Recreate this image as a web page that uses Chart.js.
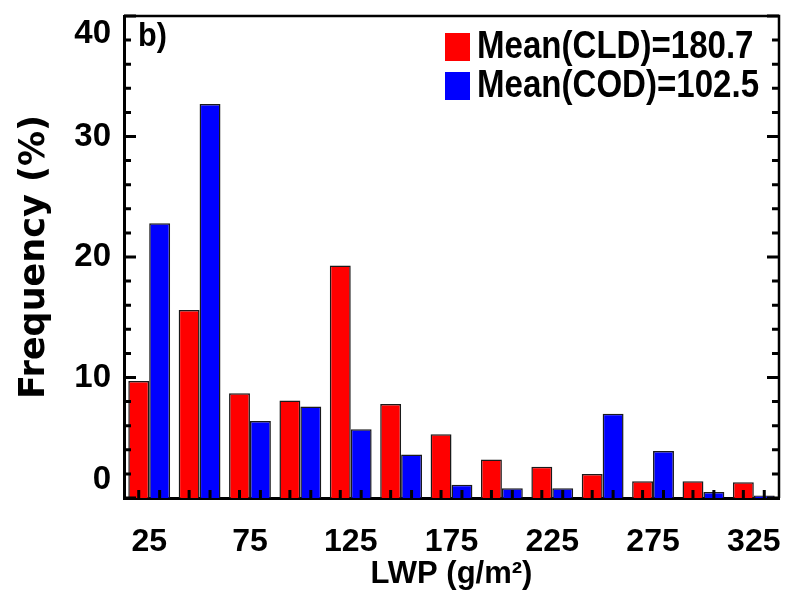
<!DOCTYPE html>
<html lang="en">
<head>
<meta charset="UTF-8">
<title>LWP frequency</title>
<style>
  html, body { margin: 0; padding: 0; background: #fff; }
</style>
</head>
<body>
<canvas id="chart" width="802" height="605"></canvas>

<script src="https://cdn.jsdelivr.net/npm/chart.js@4.4.0/dist/chart.umd.min.js"></script>
<script>
// bin centres of LWP (g/m2), 25 g/m2 wide
const lwpBins = ['25', '50', '75', '100', '125', '150', '175', '200', '225', '250', '275', '300', '325'];
// frequency (%) per bin
const cldFreq = [9.7, 15.6, 8.7, 8.1, 19.3, 7.8, 5.3, 3.2, 2.6, 2.0, 1.4, 1.4, 1.3];
const codFreq = [22.8, 32.7, 6.4, 7.6, 5.7, 3.6, 1.1, 0.8, 0.8, 7.0, 3.9, 0.5, 0.2];
const seriesNames = ['Mean(CLD)=180.7', 'Mean(COD)=102.5'];
const yMin = 0, yMax = 40, yMajorStep = 10, yMinorStep = 2;
const panelLabel = 'b)';

const FONT = '"Liberation Sans", Arial, Helvetica, sans-serif';

// frame on top/right plus inward tick marks
const framePlugin = {
    id: 'frame',
    afterDatasetsDraw(chart) {
        const { ctx, chartArea: a, scales: { y } } = chart;
        ctx.save();
        ctx.strokeStyle = '#000';
        ctx.lineWidth = 2.5;
        ctx.beginPath();
        ctx.moveTo(a.left, a.top);
        ctx.lineTo(a.right, a.top);
        ctx.lineTo(a.right, a.bottom);
        ctx.stroke();

        ctx.lineWidth = 3;
        ctx.beginPath();
        for (let v = yMin; v <= yMax; v += yMinorStep) {
            const py = y.getPixelForValue(v);
            const len = v % yMajorStep === 0 ? 12 : 7;
            ctx.moveTo(a.left, py);
            ctx.lineTo(a.left + len, py);
            ctx.moveTo(a.right, py);
            ctx.lineTo(a.right - len, py);
        }
        chart.data.datasets.forEach((ds, i) => {
            chart.getDatasetMeta(i).data.forEach(bar => {
                ctx.moveTo(bar.x, a.bottom);
                ctx.lineTo(bar.x, a.bottom - 8);
            });
        });
        ctx.stroke();
        ctx.restore();
    }
};

// narrow-ish text like the original plotting package
function drawNarrow(ctx, text, x, y, squeeze) {
    ctx.save();
    ctx.translate(x, y);
    ctx.scale(squeeze, 1);
    ctx.fillText(text, 0, 0);
    ctx.restore();
}

// legend inside the plot, top right, plus panel label
const insideLegend = {
    id: 'insideLegend',
    afterDraw(chart) {
        const { ctx, chartArea: a } = chart;
        ctx.save();
        ctx.textBaseline = 'middle';
        ctx.font = 'bold 38px ' + FONT;
        chart.data.datasets.forEach((ds, i) => {
            const top = a.top + 17 + i * 39;
            ctx.fillStyle = ds.backgroundColor;
            ctx.fillRect(a.right - 334, top, 25, 28);
            ctx.fillStyle = '#000';
            drawNarrow(ctx, ds.label, a.right - 302, top + 15, 0.87);
        });
        ctx.font = 'bold 34px ' + FONT;
        drawNarrow(ctx, panelLabel, a.left + 14, a.top + 21, 0.9);
        ctx.restore();
    }
};

const ctx = document.getElementById('chart').getContext('2d');
new Chart(ctx, {
    type: 'bar',
    data: {
        labels: lwpBins,
        datasets: [
            {
                label: seriesNames[0],
                data: cldFreq,
                backgroundColor: '#ff0000',
                borderColor: '#1a1a1a',
                borderWidth: 1.5
            },
            {
                label: seriesNames[1],
                data: codFreq,
                backgroundColor: '#0000ff',
                borderColor: '#1a1a1a',
                borderWidth: 1.5
            }
        ]
    },
    options: {
        responsive: false,
        devicePixelRatio: 1,
        animation: false,
        categoryPercentage: 0.83,
        barPercentage: 1.0,
        layout: { padding: { top: 16, right: 23, left: 0, bottom: 0 } },
        plugins: {
            legend: { display: false },
            tooltip: { enabled: false }
        },
        scales: {
            x: {
                z: 1,
                grid: { display: false, drawTicks: false },
                border: { display: true, color: '#000', width: 3 },
                ticks: {
                    autoSkip: false,
                    maxRotation: 0,
                    minRotation: 0,
                    padding: 25,
                    color: '#000',
                    font: { family: FONT, size: 32, weight: 'bold' },
                    callback: (val, i) => (i % 2 === 0 ? lwpBins[i] : '')
                },
                title: {
                    display: true,
                    text: 'LWP (g/m²)',
                    color: '#000',
                    font: { family: FONT, size: 31, weight: 'bold' },
                    padding: { top: 0, bottom: 12 }
                },
                afterFit: s => { s.height = 107; s.paddingLeft = 0; s.paddingRight = 0; }
            },
            y: {
                z: 1,
                min: yMin,
                max: yMax,
                grid: { display: false, drawTicks: false },
                border: { display: true, color: '#000', width: 3 },
                ticks: {
                    stepSize: yMajorStep,
                    padding: 13,
                    color: '#000',
                    font: { family: FONT, size: 33, weight: 'bold', lineHeight: 1.1 },
                    callback: v => (v === yMin ? [String(v), ''] : v === yMax ? ['', String(v)] : String(v))
                },
                title: {
                    display: true,
                    text: 'Frequency (%)',
                    color: '#000',
                    font: { family: '"DejaVu Sans", "Liberation Sans", sans-serif', size: 35, weight: 'bold' },
                    padding: { top: 14, bottom: 0 }
                },
                afterFit: s => { s.width = 124; s.paddingTop = 0; s.paddingBottom = 0; }
            }
        }
    },
    plugins: [framePlugin, insideLegend]
});
</script>
</body>
</html>
